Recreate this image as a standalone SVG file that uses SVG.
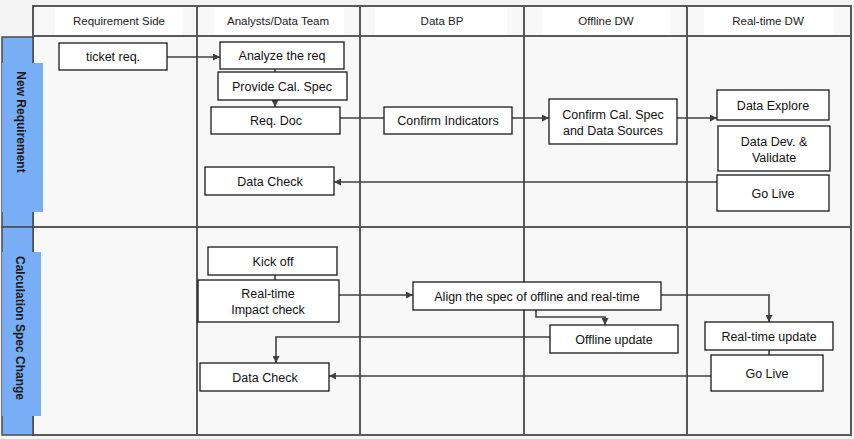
<svg xmlns="http://www.w3.org/2000/svg" width="854" height="439" viewBox="0 0 854 439">
<defs>
<marker id="ah" viewBox="0 0 10 10" refX="10" refY="5" markerWidth="7" markerHeight="7" markerUnits="userSpaceOnUse" orient="auto"><path d="M0,0 L10,5 L0,10 z" fill="#404040"/></marker>
<style>
.grid{stroke:#595959;stroke-width:2;fill:none}
.hdr{fill:#ffffff}
.ht{font-family:"Liberation Sans",Arial,sans-serif;font-size:11.5px;fill:#222;text-anchor:middle}
.box{fill:#ffffff;stroke:#1a1a1a;stroke-width:1.3}
.t{font-family:"Liberation Sans",Arial,sans-serif;font-size:12.5px;fill:#111;text-anchor:middle}
.lane{fill:#78aef5;stroke:#4a4a4a;stroke-width:1.5}
.lab{fill:#78aef5}
.lt{font-family:"Liberation Sans",Arial,sans-serif;font-size:12px;font-weight:bold;fill:#1a1a1a;text-anchor:middle}
.c{stroke:#404040;stroke-width:1.6;fill:none}
</style>
</defs>
<rect width="854" height="439" fill="#f4f4f4"/>
<rect x="33" y="6" width="818" height="429" fill="#f8f8f8"/>
<g id="headers">
<rect class="hdr" x="55" y="8" width="128" height="27"/>
<rect class="hdr" x="214" y="8" width="130" height="27"/>
<rect class="hdr" x="375" y="8" width="132" height="27"/>
<rect class="hdr" x="542" y="8" width="128" height="27"/>
<rect class="hdr" x="704" y="8" width="130" height="27"/>
<text class="ht" x="119" y="25">Requirement Side</text>
<text class="ht" x="278" y="25">Analysts/Data Team</text>
<text class="ht" x="442" y="25">Data  BP</text>
<text class="ht" x="606" y="25">Offline DW</text>
<text class="ht" x="768" y="25">Real-time DW</text>
</g>
<g id="grid">
<rect class="grid" x="33" y="6" width="818" height="429"/>
<line class="grid" x1="33" y1="36" x2="851" y2="36"/>
<line class="grid" x1="2" y1="227" x2="851" y2="227"/>
<line class="grid" x1="197" y1="6" x2="197" y2="435"/>
<line class="grid" x1="360" y1="6" x2="360" y2="435"/>
<line class="grid" x1="524" y1="6" x2="524" y2="435"/>
<line class="grid" x1="687" y1="6" x2="687" y2="435"/>
</g>
<g id="lane-new">
<rect class="lane" x="2" y="37" width="31" height="190"/>
<rect class="lab" x="2" y="63" width="41" height="149"/>
<text class="lt" transform="translate(17,122) rotate(90)">New Requirement</text>
</g>
<g id="lane-calc">
<rect class="lane" x="2" y="227" width="31" height="208"/>
<rect class="lab" x="2" y="252" width="39" height="164"/>
<text class="lt" transform="translate(16,328) rotate(90)">Calculation Spec Change</text>
</g>
<g id="connectors">
<line class="c" x1="167" y1="57" x2="220" y2="57" marker-end="url(#ah)"/>
<line class="c" x1="275" y1="69" x2="275" y2="72" />
<line class="c" x1="275" y1="100" x2="275" y2="107" marker-end="url(#ah)"/>
<line class="c" x1="340" y1="118" x2="384" y2="118"/>
<line class="c" x1="512" y1="118" x2="549" y2="118" marker-end="url(#ah)"/>
<line class="c" x1="677" y1="118" x2="717" y2="118" marker-end="url(#ah)"/>
<line class="c" x1="717" y1="182" x2="334" y2="182" marker-end="url(#ah)"/>
<line class="c" x1="275" y1="275" x2="275" y2="280"/>
<line class="c" x1="339" y1="295" x2="413" y2="295" marker-end="url(#ah)"/>
<polyline class="c" points="536,310 536,317 605,317 605,325" marker-end="url(#ah)"/>
<polyline class="c" points="661,295 769,295 769,322" marker-end="url(#ah)"/>
<line class="c" x1="769" y1="350" x2="769" y2="355"/>
<polyline class="c" points="550,337 276,337 276,363" marker-end="url(#ah)"/>
<line class="c" x1="711" y1="376" x2="329" y2="376" marker-end="url(#ah)"/>
</g>
<g id="ticket-req"><rect class="box" x="59" y="43" width="108" height="27"/><text class="t" x="113" y="61">ticket req.</text></g>
<g id="analyze"><rect class="box" x="220" y="42" width="124" height="27"/><text class="t" x="282" y="60">Analyze the req</text></g>
<g id="provide"><rect class="box" x="218" y="72" width="129" height="28"/><text class="t" x="282" y="91">Provide Cal. Spec</text></g>
<g id="req-doc"><rect class="box" x="211" y="107" width="129" height="27"/><text class="t" x="276" y="125">Req. Doc</text></g>
<g id="data-check-1"><rect class="box" x="205" y="167" width="129" height="28"/><text class="t" x="270" y="186">Data Check</text></g>
<g id="confirm-ind"><rect class="box" x="384" y="107" width="128" height="27"/><text class="t" x="448" y="125">Confirm Indicators</text></g>
<g id="confirm-cal"><rect class="box" x="549" y="99" width="128" height="45"/><text class="t" x="613" y="119">Confirm Cal. Spec</text><text class="t" x="613" y="135">and Data Sources</text></g>
<g id="data-explore"><rect class="box" x="717" y="90" width="112" height="30"/><text class="t" x="773" y="110">Data Explore</text></g>
<g id="data-dev"><rect class="box" x="718" y="126" width="112" height="45"/><text class="t" x="774" y="146">Data Dev. &amp;</text><text class="t" x="774" y="162">Validate</text></g>
<g id="go-live-1"><rect class="box" x="717" y="175" width="112" height="36"/><text class="t" x="773" y="198">Go Live</text></g>
<g id="kick-off"><rect class="box" x="208" y="247" width="129" height="28"/><text class="t" x="273" y="266">Kick off</text></g>
<g id="impact"><rect class="box" x="198" y="280" width="141" height="42"/><text class="t" x="268" y="298">Real-time</text><text class="t" x="268" y="314">Impact check</text></g>
<g id="align"><rect class="box" x="413" y="282" width="248" height="28"/><text class="t" x="537" y="301">Align the spec of offline and real-time</text></g>
<g id="offline-update"><rect class="box" x="550" y="325" width="128" height="28"/><text class="t" x="614" y="344">Offline update</text></g>
<g id="rt-update"><rect class="box" x="705" y="322" width="128" height="28"/><text class="t" x="769" y="341">Real-time update</text></g>
<g id="go-live-2"><rect class="box" x="711" y="355" width="112" height="36"/><text class="t" x="767" y="378">Go Live</text></g>
<g id="data-check-2"><rect class="box" x="200" y="363" width="129" height="28"/><text class="t" x="265" y="382">Data Check</text></g>
</svg>
